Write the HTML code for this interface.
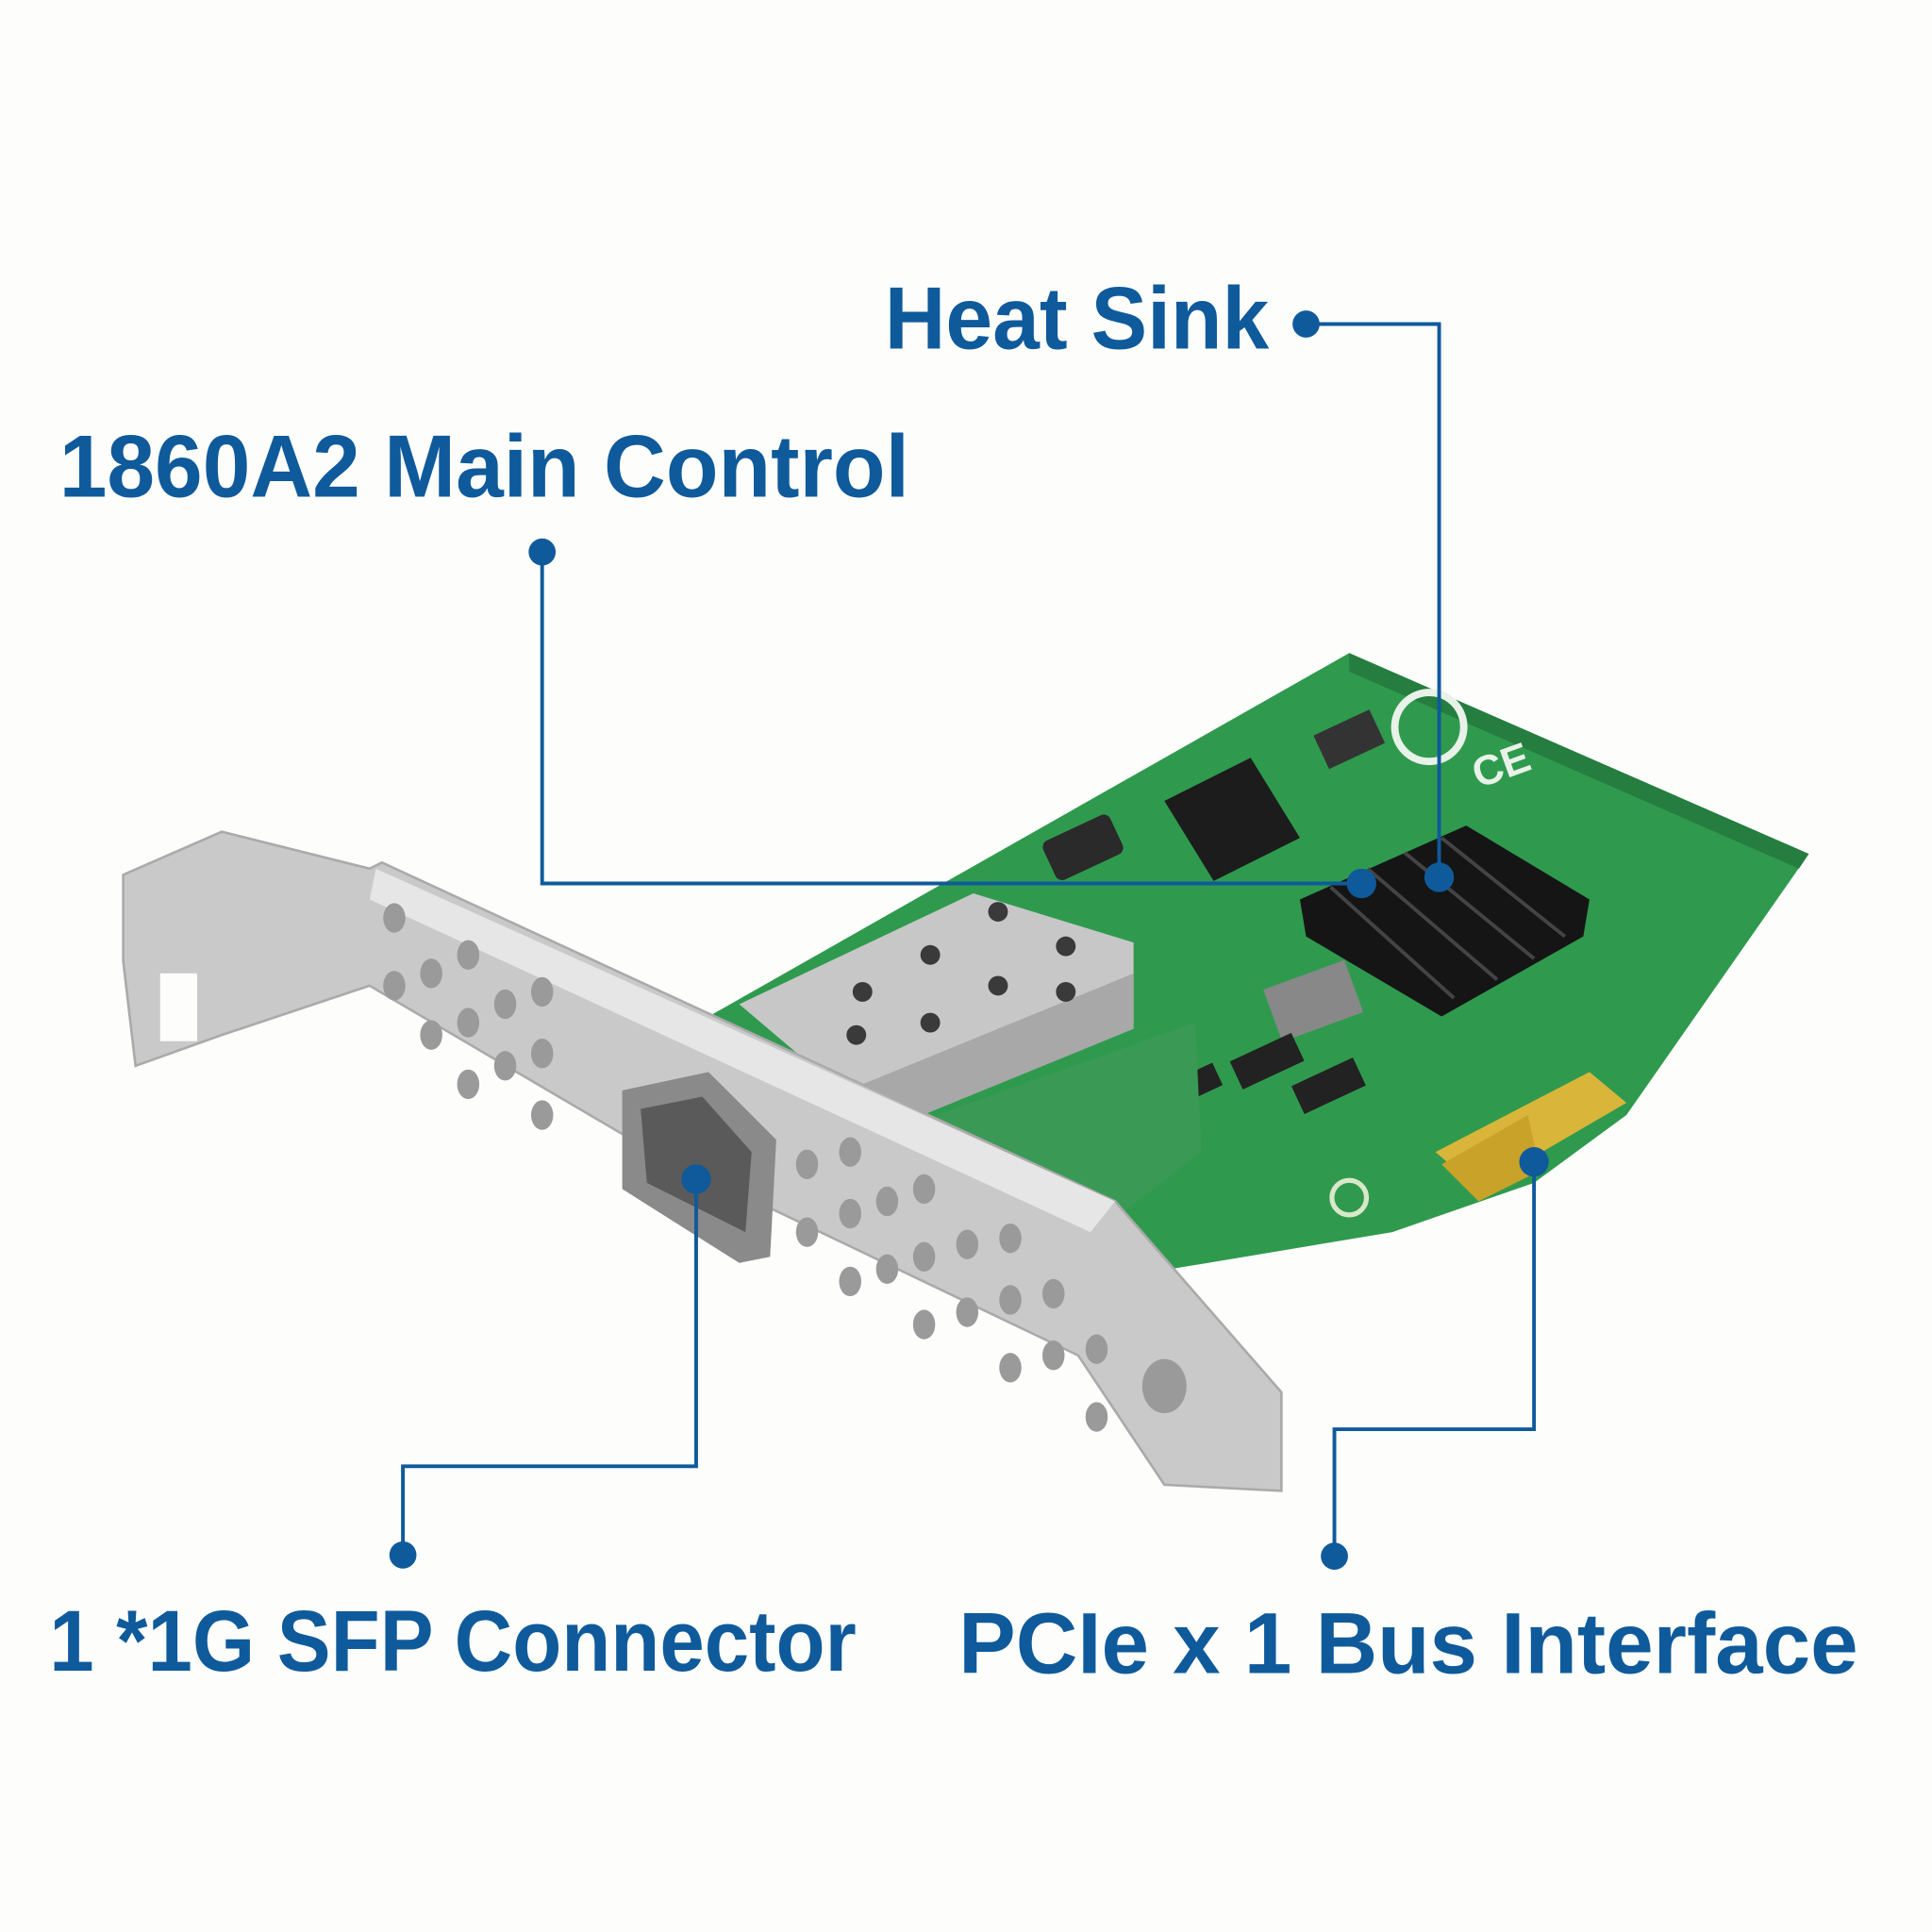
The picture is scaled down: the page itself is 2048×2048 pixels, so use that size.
<!DOCTYPE html>
<html><head><meta charset="utf-8"><style>
html,body{margin:0;padding:0;background:#fdfefc;}
svg{display:block;}
text{font-family:"Liberation Sans",sans-serif;font-weight:bold;fill:#0f5a9b;}
</style></head><body>
<svg width="2048" height="2048" viewBox="0 0 1568 1568" xmlns="http://www.w3.org/2000/svg">
<rect width="1568" height="1568" fill="#fdfefc"/>
<!-- PCB -->
<polygon points="575,825 1095,530 1468,693 1320,905 1245,960 1130,1000 950,1030 880,1000" fill="#2f9a4e"/>
<polygon points="1095,530 1468,693 1460,705 1095,545" fill="#257d3f"/>
<circle cx="1160" cy="590" r="28" fill="none" stroke="#e8f2e8" stroke-width="6"/>
<text x="1200" y="640" style="fill:#e8f2e8;font-size:34px" transform="rotate(-20 1200 640)">CE</text>
<rect x="1070" y="585" width="50" height="30" fill="#333" transform="rotate(-25 1095 600)"/>
<rect x="850" y="670" width="60" height="35" fill="#2a2a2a" rx="6" transform="rotate(-25 880 690)"/>
<rect x="1030" y="790" width="70" height="45" fill="#888" transform="rotate(-20 1065 810)"/>
<rect x="1000" y="850" width="55" height="25" fill="#222" transform="rotate(-25 1025 860)"/>
<rect x="1050" y="870" width="55" height="25" fill="#222" transform="rotate(-25 1075 880)"/>
<rect x="955" y="870" width="35" height="20" fill="#222" transform="rotate(-25 970 880)"/>
<!-- small heatsink -->
<polygon points="945,650 1015,615 1055,680 985,715" fill="#1c1c1c"/>
<!-- big heatsink -->
<polygon points="1055,730 1190,670 1290,730 1285,760 1170,825 1060,760" fill="#151515"/>
<g stroke="#444" stroke-width="3">
<line x1="1080" y1="720" x2="1180" y2="810"/><line x1="1110" y1="705" x2="1215" y2="795"/>
<line x1="1140" y1="692" x2="1245" y2="778"/><line x1="1170" y1="680" x2="1270" y2="760"/>
</g>
<!-- gold fingers -->
<polygon points="1165,935 1290,870 1320,895 1200,965" fill="#d9b53a"/>
<polygon points="1170,945 1240,905 1250,950 1200,975" fill="#c9a22a"/>
<circle cx="1095" cy="972" r="14" fill="#2f9a4e" stroke="#d8e8c8" stroke-width="4"/>
<!-- SFP cage -->
<polygon points="600,815 790,725 920,765 920,830 730,905 700,900" fill="#c7c7c7"/>
<polygon points="700,880 920,790 920,835 700,925" fill="#a8a8a8"/>
<g fill="#3a3a3a">
<circle cx="810" cy="740" r="8"/><circle cx="755" cy="775" r="8"/><circle cx="700" cy="805" r="8"/>
<circle cx="865" cy="768" r="8"/><circle cx="810" cy="800" r="8"/><circle cx="755" cy="830" r="8"/>
<circle cx="695" cy="840" r="8"/><circle cx="865" cy="805" r="8"/>
</g>
<polygon points="760,905 970,830 975,935 890,1000 780,960" fill="#3a9a55"/>
<!-- bracket -->
<polygon points="100,710 180,675 300,705 310,700 905,975 1040,1130 1040,1210 945,1205 875,1100 530,935 300,800 180,840 110,865 100,780" fill="#c9c9c9" stroke="#aaa" stroke-width="2"/>
<polygon points="305,705 905,975 885,1000 300,730" fill="#e6e6e6"/>
<g fill="#9a9a9a">
<ellipse cx="320" cy="745" rx="9" ry="12"/><ellipse cx="350" cy="790" rx="9" ry="12"/><ellipse cx="380" cy="775" rx="9" ry="12"/>
<ellipse cx="320" cy="800" rx="9" ry="12"/><ellipse cx="350" cy="840" rx="9" ry="12"/><ellipse cx="380" cy="830" rx="9" ry="12"/>
<ellipse cx="410" cy="815" rx="9" ry="12"/><ellipse cx="440" cy="805" rx="9" ry="12"/><ellipse cx="380" cy="880" rx="9" ry="12"/>
<ellipse cx="410" cy="865" rx="9" ry="12"/><ellipse cx="440" cy="855" rx="9" ry="12"/><ellipse cx="440" cy="905" rx="9" ry="12"/>
<ellipse cx="655" cy="945" rx="9" ry="12"/><ellipse cx="690" cy="935" rx="9" ry="12"/><ellipse cx="655" cy="1000" rx="9" ry="12"/>
<ellipse cx="690" cy="985" rx="9" ry="12"/><ellipse cx="720" cy="975" rx="9" ry="12"/><ellipse cx="750" cy="965" rx="9" ry="12"/>
<ellipse cx="690" cy="1040" rx="9" ry="12"/><ellipse cx="720" cy="1030" rx="9" ry="12"/><ellipse cx="750" cy="1020" rx="9" ry="12"/>
<ellipse cx="785" cy="1010" rx="9" ry="12"/><ellipse cx="820" cy="1005" rx="9" ry="12"/><ellipse cx="750" cy="1075" rx="9" ry="12"/>
<ellipse cx="785" cy="1065" rx="9" ry="12"/><ellipse cx="820" cy="1055" rx="9" ry="12"/><ellipse cx="855" cy="1050" rx="9" ry="12"/>
<ellipse cx="820" cy="1110" rx="9" ry="12"/><ellipse cx="855" cy="1100" rx="9" ry="12"/><ellipse cx="890" cy="1095" rx="9" ry="12"/>
<ellipse cx="890" cy="1150" rx="9" ry="12"/><ellipse cx="945" cy="1125" rx="18" ry="22"/>
</g>
<rect x="130" y="790" width="30" height="55" fill="#fdfefc"/>
<!-- SFP port -->
<polygon points="505,885 575,870 630,925 625,1020 600,1025 505,965" fill="#8a8a8a"/>
<polygon points="520,900 570,890 610,935 605,1000 525,960" fill="#5a5a5a"/>
<!-- connectors -->
<g stroke="#0f5a9b" stroke-width="3" fill="none">
<polyline points="1060,263 1168,263 1168,712"/>
<polyline points="440,448 440,717 1105,717"/>
<polyline points="565,957 565,1190 327,1190 327,1262"/>
<polyline points="1245,943 1245,1160 1083,1160 1083,1263"/>
</g>
<g fill="#0f5a9b">
<circle cx="1060" cy="263" r="11"/><circle cx="1168" cy="712" r="12"/>
<circle cx="440" cy="448" r="11"/><circle cx="1105" cy="717" r="12"/>
<circle cx="565" cy="957" r="12"/><circle cx="327" cy="1262" r="11"/>
<circle cx="1245" cy="943" r="12"/><circle cx="1083" cy="1263" r="11"/>
</g>
<!-- labels -->
<text x="718" y="283" font-size="72" textLength="312" lengthAdjust="spacingAndGlyphs">Heat Sink</text>
<text x="48" y="403" font-size="72" textLength="690" lengthAdjust="spacingAndGlyphs">1860A2 Main Control</text>
<text x="40" y="1356" font-size="70" textLength="655" lengthAdjust="spacingAndGlyphs">1 *1G SFP Connector</text>
<text x="778" y="1358" font-size="70" textLength="730" lengthAdjust="spacingAndGlyphs">PCIe x 1 Bus Interface</text>
</svg>
</body></html>
